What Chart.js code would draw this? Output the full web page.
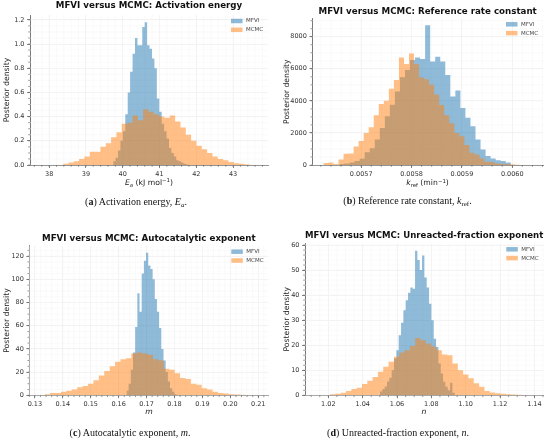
<!DOCTYPE html>
<html>
<head>
<meta charset="utf-8">
<script src="https://cdn.jsdelivr.net/npm/chart.js@4.4.1/dist/chart.umd.min.js"></script>
<style>
  body { margin: 0; width: 550px; height: 442px; background: #fff; position: relative; overflow: hidden; }
  .panel { position: absolute; }
  .xlab { position: absolute; font-family: "DejaVu Sans", sans-serif; font-size: 7.7px; color: #222;
          transform: translate(-50%, -50%); white-space: nowrap; line-height: 1; }
  .cap { position: absolute; font-family: "Liberation Serif", serif; font-size: 10px; color: #111;
         transform: translate(-50%, -50%); white-space: nowrap; line-height: 1; }
  sub, sup { font-size: 70%; line-height: 0; position: relative; vertical-align: baseline; }
  sub { bottom: -0.3em; }
  sup { top: -0.5em; }
</style>
</head>
<body>
<div class="panel" style="left:0;top:0;width:275px;height:200px"><canvas id="chartA"></canvas></div>
<div class="panel" style="left:275px;top:0;width:275px;height:200px"><canvas id="chartB"></canvas></div>
<div class="panel" style="left:0;top:215px;width:275px;height:227px"><canvas id="chartC"></canvas></div>
<div class="panel" style="left:275px;top:215px;width:275px;height:227px"><canvas id="chartD"></canvas></div>

<div class="xlab" style="left:149px;top:183px"><i>E</i><sub><i>a</i></sub> (kJ mol<sup>−1</sup>)</div>
<div class="xlab" style="left:427.5px;top:183.3px"><i>k</i><sub>ref</sub> (min<sup>−1</sup>)</div>
<div class="xlab" style="left:149px;top:412.3px"><i>m</i></div>
<div class="xlab" style="left:424px;top:412px"><i>n</i></div>

<div class="cap" style="left:136px;top:201.7px">(<b>a</b>) Activation energy, <i>E<sub>a</sub></i>.</div>
<div class="cap" style="left:407.5px;top:200.7px">(<b>b</b>) Reference rate constant, <i>k</i><sub>ref</sub>.</div>
<div class="cap" style="left:130px;top:433.3px">(<b>c</b>) Autocatalytic exponent, <i>m</i>.</div>
<div class="cap" style="left:398px;top:433px">(<b>d</b>) Unreacted-fraction exponent, <i>n</i>.</div>

<script>
// (a) Activation energy E_a — histogram bins: start, width, densities
const eaTicksX = [38, 39, 40, 41, 42, 43];
const eaTicksY = [0, 0.2, 0.4, 0.6, 0.8, 1.0, 1.2];
const eaMfviStart = 39.74, eaMfviWidth = 0.066;
const eaMfvi = [0.01, 0.03, 0.06, 0.12, 0.20, 0.28, 0.42, 0.60, 0.77, 0.92, 1.05, 0.99, 0.99, 1.14, 1.18, 0.99,
                0.96, 0.88, 0.80, 0.55, 0.44, 0.34, 0.28, 0.22, 0.14, 0.10, 0.07, 0.04, 0.03, 0.02, 0.01, 0.005];
const eaMcmcStart = 38.38, eaMcmcWidth = 0.145;
const eaMcmc = [0.005, 0.01, 0.02, 0.03, 0.05, 0.07, 0.11, 0.11, 0.15, 0.18, 0.23, 0.27, 0.34, 0.35, 0.41, 0.37,
                0.46, 0.44, 0.42, 0.40, 0.39, 0.41, 0.36, 0.31, 0.25, 0.20, 0.16, 0.13, 0.10, 0.07, 0.05, 0.04,
                0.025, 0.015, 0.01, 0.005];

// (b) Reference rate constant k_ref
const kTicksX = [0.0057, 0.0058, 0.0059, 0.0060];
const kTicksY = [0, 2000, 4000, 6000, 8000];
const kMfviStart = 0.005657, kMfviWidth = 0.00001;
const kMfvi = [30, 60, 100, 150, 250, 390, 800, 1050, 1590, 2310, 3040, 3760, 4590, 5480, 5930, 6550, 6700, 6610,
               8720, 6450, 6750, 6450, 5620, 4270, 4650, 3560, 2940, 2420, 1590, 970, 560, 400, 300, 250, 150];
const kMcmcStart = 0.005625, kMcmcWidth = 0.00001;
const kMcmc = [60, 120, 150, 60, 350, 700, 720, 1150, 1500, 2000, 2350, 3100, 3800, 4000, 4750, 5300, 6700, 6300,
               6950, 6300, 5450, 5350, 5000, 4400, 3750, 3100, 2600, 2000, 1800, 1250, 760, 650, 400, 200, 180, 100,
               80, 60, 40, 20];

// (c) Autocatalytic exponent m
const mTicksX = [0.13, 0.14, 0.15, 0.16, 0.17, 0.18, 0.19, 0.20, 0.21];
const mTicksY = [0, 20, 40, 60, 80, 100, 120];
const mMfviStart = 0.1628, mMfviWidth = 0.00078;
const mMfvi = [1.5, 4, 10, 22, 37, 59, 88, 72, 105, 116, 123, 112, 109, 100, 83, 72, 58, 40, 30, 20, 12, 6, 3, 1];
const mMcmcStart = 0.1335, mMcmcWidth = 0.00194;
const mMcmc = [1, 1, 2, 2, 3, 4, 5, 7, 8, 10, 13, 17, 21, 25, 29, 31, 32, 36, 37, 36, 35, 31, 30, 23, 22, 19, 15,
               14, 10, 9, 6, 5, 3, 2, 1.5, 1, 0.7, 0.5, 0.3, 0.2];

// (d) Unreacted-fraction exponent n
const nTicksX = [1.02, 1.04, 1.06, 1.08, 1.10, 1.12, 1.14];
const nTicksY = [0, 10, 20, 30, 40, 50, 60];
const nMfviStart = 1.0501, nMfviWidth = 0.00136;
const nMfvi = [0.8, 1.5, 2.5, 3.5, 5.5, 7, 10, 14.7, 18, 24, 29, 34, 38, 41, 43, 42.5, 57.7, 54, 50, 55.8, 47, 43,
               36.6, 30, 22.6, 19.3, 12.7, 8.7, 5.4, 3.4, 2, 5, 1];
const nMcmcStart = 1.021, nMcmcWidth = 0.0031;
const nMcmc = [0.3, 0.4, 0.6, 1.0, 1.7, 2.5, 3.0, 4.5, 5.8, 7.3, 9.4, 11.4, 13.4, 15.4, 17.1, 18.0, 19.7, 22.9,
               22.0, 20.7, 19.5, 18.0, 16.3, 16.0, 12.7, 10.0, 8.3, 6.8, 4.8, 3.4, 1.7, 1.1, 0.8, 0.6, 0.4, 0.3,
               0.2, 0.1];

const mfviColor = 'rgba(31, 119, 180, 0.5)';
const mcmcColor = 'rgba(255, 127, 14, 0.5)';

// bins -> step outline (left edges + closing edge), filled down to zero
function histPoints(start, width, heights) {
  const pts = heights.map((h, i) => ({ x: start + i * width, y: h }));
  pts.push({ x: start + heights.length * width, y: 0 });
  return pts;
}

function minorValues(min, max, step) {
  const out = [];
  for (let v = Math.ceil(min / step) * step; v <= max + 1e-12; v += step) out.push(v);
  return out;
}

// minor grid/ticks + legend drawn inside the plot, top right
const histLegend = {
  id: 'histLegend',
  beforeDatasetsDraw(chart, args, opts) {
    const { ctx, chartArea: a, scales: { x, y } } = chart;
    ctx.save();
    ctx.strokeStyle = '#f4f4f4';
    ctx.lineWidth = 0.5;
    ctx.beginPath();
    minorValues(x.min, x.max, opts.xMinor).forEach(v => {
      const px = x.getPixelForValue(v);
      ctx.moveTo(px, a.top); ctx.lineTo(px, a.bottom);
    });
    minorValues(y.min, y.max, opts.yMinor).forEach(v => {
      const py = y.getPixelForValue(v);
      ctx.moveTo(a.left, py); ctx.lineTo(a.right, py);
    });
    ctx.stroke();
    ctx.restore();
  },
  afterDatasetsDraw(chart, args, opts) {
    const { ctx, chartArea: a, scales: { x, y } } = chart;
    ctx.save();
    ctx.strokeStyle = '#555';
    ctx.lineWidth = 0.6;
    ctx.beginPath();
    minorValues(x.min, x.max, opts.xMinor).forEach(v => {
      const px = x.getPixelForValue(v);
      ctx.moveTo(px, a.bottom); ctx.lineTo(px, a.bottom + 1.8);
    });
    minorValues(y.min, y.max, opts.yMinor).forEach(v => {
      const py = y.getPixelForValue(v);
      ctx.moveTo(a.left - 1.8, py); ctx.lineTo(a.left, py);
    });
    ctx.stroke();

    ctx.font = opts.size + 'px "DejaVu Sans"';
    ctx.textBaseline = 'middle';
    chart.data.datasets.forEach((ds, i) => {
      const lx = a.right + opts.right;
      const ly = a.top + opts.top + i * opts.gap;
      ctx.fillStyle = ds.backgroundColor;
      ctx.fillRect(lx, ly - opts.boxH / 2, opts.boxW, opts.boxH);
      ctx.fillStyle = '#444';
      ctx.fillText(ds.label, lx + opts.boxW + 3.5, ly);
    });
    ctx.restore();
  }
};

const tickFont = { family: 'DejaVu Sans', size: 6.5 };
const gridStyle = { color: '#e9e9e9', lineWidth: 0.6, drawTicks: true, tickLength: 3, tickColor: '#555', tickWidth: 0.7 };
const borderStyle = { display: true, color: '#555', width: 0.8 };

function makeChart(p) {
  const b = p.box;
  const titleLH = 8.7 * 1.2;
  const ylabLH = 7.7 * 1.2;
  const histStyle = { fill: 'origin', stepped: 'after', borderWidth: 0, borderColor: 'transparent', pointRadius: 0 };
  return new Chart(document.getElementById(p.id), {
    type: 'line',
    data: {
      datasets: [
        { label: 'MFVI', data: p.mfvi, backgroundColor: mfviColor, order: 2, ...histStyle },
        { label: 'MCMC', data: p.mcmc, backgroundColor: mcmcColor, order: 1, ...histStyle }
      ]
    },
    options: {
      responsive: true,
      maintainAspectRatio: false,
      animation: false,
      events: [],
      layout: { padding: { left: 0, right: b.w - b.right, top: 0, bottom: 0 } },
      plugins: {
        legend: { display: false },
        tooltip: { enabled: false },
        title: {
          display: true, text: p.title, fullSize: false, color: '#111',
          font: { family: 'DejaVu Sans', size: 8.7, weight: 'bold', lineHeight: 1.2 },
          padding: { top: b.titleY - titleLH / 2, bottom: b.top - titleLH - (b.titleY - titleLH / 2) }
        },
        histLegend: { size: 5.5, right: -37, top: 6, gap: 8.8, boxW: 11.5, boxH: 4.5,
                      xMinor: p.xMinor, yMinor: p.yMinor }
      },
      scales: {
        x: {
          type: 'linear', min: p.xMin, max: p.xMax,
          afterBuildTicks: s => { s.ticks = p.xTicks.map(v => ({ value: v })); },
          afterFit: s => { s.height = b.h - b.bottom; },
          ticks: { callback: v => p.xFmt(v), color: '#333', font: tickFont, padding: 2, maxRotation: 0, autoSkip: false },
          grid: gridStyle,
          border: borderStyle
        },
        y: {
          min: 0, max: p.yMax,
          afterBuildTicks: s => { s.ticks = p.yTicks.map(v => ({ value: v })); },
          afterFit: s => { s.width = b.left; },
          ticks: { callback: v => p.yFmt(v), color: '#333', font: tickFont, padding: 2.5, autoSkip: false },
          grid: gridStyle,
          border: borderStyle,
          title: {
            display: true, text: 'Posterior density', color: '#222',
            font: { family: 'DejaVu Sans', size: 7.7, lineHeight: 1.2 },
            padding: { top: b.ylabX - ylabLH / 2, bottom: 0 }
          }
        }
      }
    },
    plugins: [histLegend]
  });
}

const panels = [
  {
    id: 'chartA', title: 'MFVI versus MCMC: Activation energy',
    xMin: 37.48, xMax: 43.95, yMax: 1.24, xTicks: eaTicksX, yTicks: eaTicksY, xMinor: 0.2, yMinor: 0.05,
    xFmt: v => v.toFixed(0), yFmt: v => v.toFixed(1),
    mfvi: histPoints(eaMfviStart, eaMfviWidth, eaMfvi), mcmc: histPoints(eaMcmcStart, eaMcmcWidth, eaMcmc),
    box: { w: 275, h: 200, left: 30, right: 268, top: 15, bottom: 165, titleY: 6, ylabX: 7.3 }
  },
  {
    id: 'chartB', title: 'MFVI versus MCMC: Reference rate constant',
    xMin: 0.005603, xMax: 0.006061, yMax: 9150, xTicks: kTicksX, yTicks: kTicksY, xMinor: 0.00002, yMinor: 500,
    xFmt: v => v.toFixed(4), yFmt: v => v.toFixed(0),
    mfvi: histPoints(kMfviStart, kMfviWidth, kMfvi), mcmc: histPoints(kMcmcStart, kMcmcWidth, kMcmc),
    box: { w: 275, h: 200, left: 37.3, right: 268, top: 18.3, bottom: 165, titleY: 11.7, ylabX: 11.7 }
  },
  {
    id: 'chartC', title: 'MFVI versus MCMC: Autocatalytic exponent',
    xMin: 0.128, xMax: 0.2136, yMax: 129, xTicks: mTicksX, yTicks: mTicksY, xMinor: 0.002, yMinor: 5,
    xFmt: v => v.toFixed(2), yFmt: v => v.toFixed(0),
    mfvi: histPoints(mMfviStart, mMfviWidth, mMfvi), mcmc: histPoints(mMcmcStart, mMcmcWidth, mMcmc),
    box: { w: 275, h: 227, left: 29.3, right: 268.3, top: 30.7, bottom: 180.3, titleY: 24, ylabX: 7.3 }
  },
  {
    id: 'chartD', title: 'MFVI versus MCMC: Unreacted-fraction exponent',
    xMin: 1.0064, xMax: 1.1452, yMax: 60.7, xTicks: nTicksX, yTicks: nTicksY, xMinor: 0.005, yMinor: 2,
    xFmt: v => v.toFixed(2), yFmt: v => v.toFixed(0),
    mfvi: histPoints(nMfviStart, nMfviWidth, nMfvi), mcmc: histPoints(nMcmcStart, nMcmcWidth, nMcmc),
    box: { w: 275, h: 227, left: 30, right: 268.3, top: 28.3, bottom: 180.3, titleY: 20.7, ylabX: 11.7 }
  }
];

panels.forEach(makeChart);
</script>
</body>
</html>
